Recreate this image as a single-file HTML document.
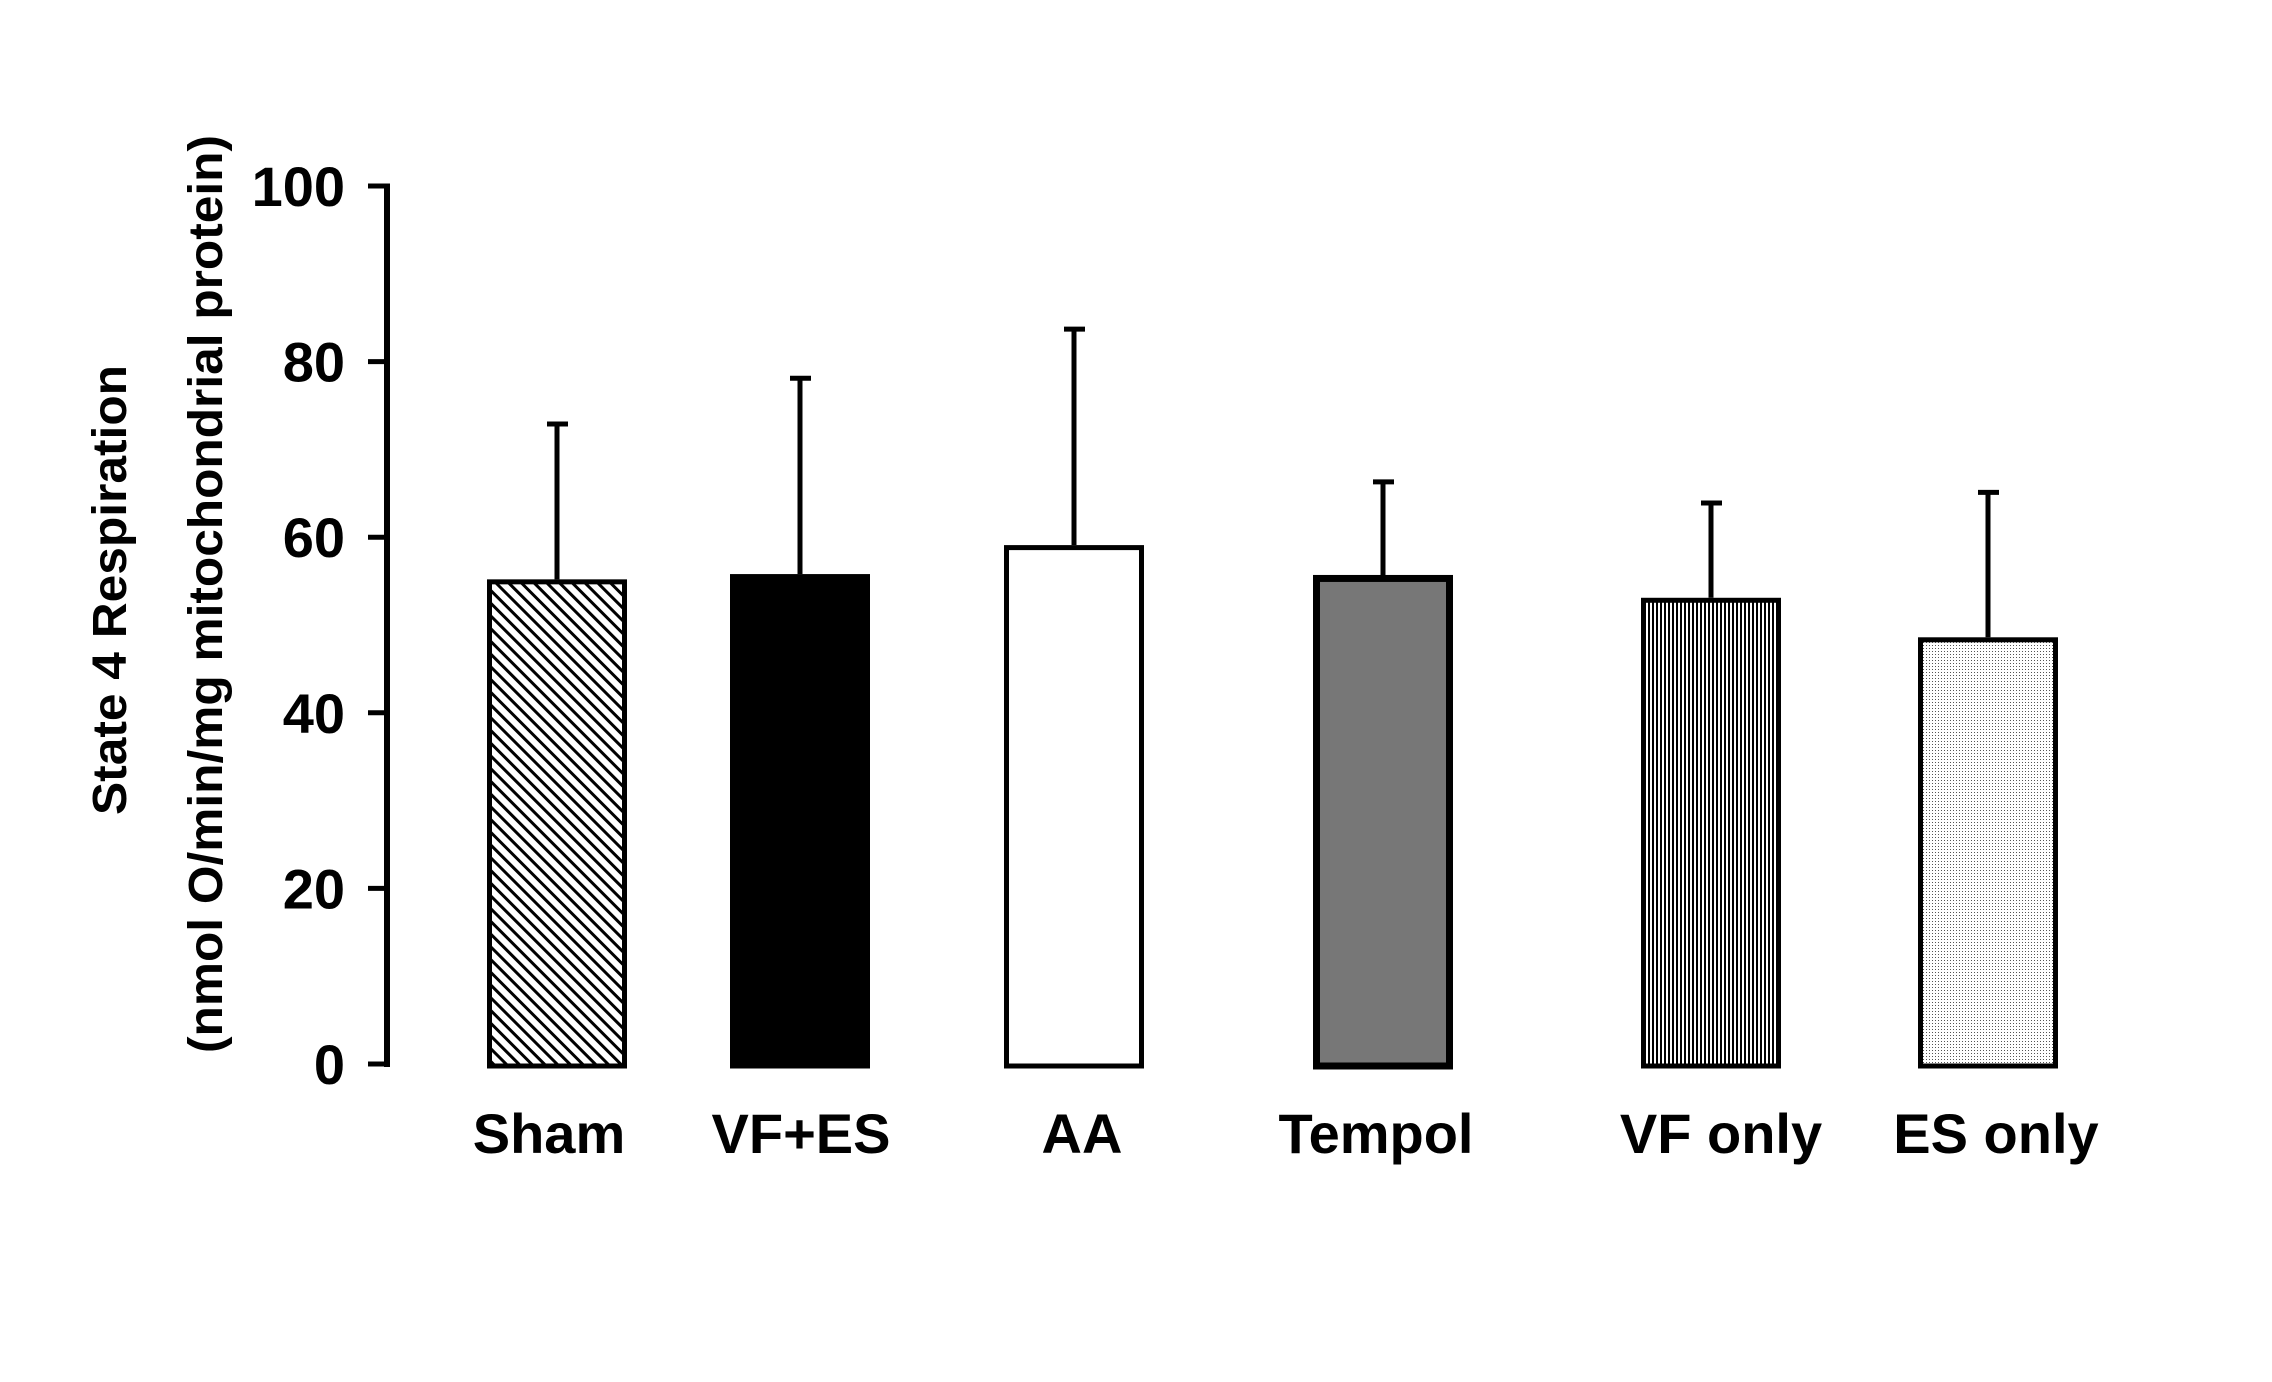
<!DOCTYPE html>
<html><head><meta charset="utf-8">
<style>
html,body{margin:0;padding:0;background:#fff;}
svg{display:block;}
text{font-family:"Liberation Sans",Arial,sans-serif;font-weight:bold;fill:#000;}
</style></head>
<body>
<svg id="chart" width="2272" height="1382" viewBox="0 0 2272 1382" xmlns="http://www.w3.org/2000/svg">
<defs>
  <pattern id="diag" patternUnits="userSpaceOnUse" width="9" height="9" patternTransform="rotate(-45)">
    <rect width="9" height="9" fill="#fff"/><rect x="0" y="0" width="3" height="9" fill="#000"/>
  </pattern>
  <pattern id="vert" patternUnits="userSpaceOnUse" width="4" height="4">
    <rect width="4" height="4" fill="#fff"/><rect x="0" y="0" width="2" height="4" fill="#000"/>
  </pattern>
  <pattern id="dots" patternUnits="userSpaceOnUse" width="3" height="3">
    <rect width="3" height="3" fill="#fff"/><rect x="0" y="0" width="1" height="1" fill="#555"/>
  </pattern>
</defs>
<g id="y-title">
  <text transform="translate(126,590) rotate(-90)" text-anchor="middle" font-size="48" textLength="450" lengthAdjust="spacingAndGlyphs">State 4 Respiration</text>
  <text transform="translate(222,594) rotate(-90)" text-anchor="middle" font-size="48" textLength="918" lengthAdjust="spacingAndGlyphs">(nmol O/min/mg mitochondrial protein)</text>
</g>
<g id="axis"></g>
<g id="bars"></g>
<g id="xlabels"></g>
</svg>
<script>
const categories = ["Sham", "VF+ES", "AA", "Tempol", "VF only", "ES only"];
const means = [55.2, 55.8, 59.1, 55.7, 53.1, 48.6];
const errors = [17.7, 22.3, 24.6, 10.6, 10.8, 16.5];
const yTicks = [0, 20, 40, 60, 80, 100];
const yTickLabels = ["0", "20", "40", "60", "80", "100"];

const NS = "http://www.w3.org/2000/svg";
const Y0 = 1064, Y100 = 186, AXX = 387;
function yScale(v){ return Y0 - (v/100)*(Y0-Y100); }
// layout: uneven category slot centers (layout, not data)
const slotCenters = [557, 800, 1074, 1383, 1711, 1988];
const labelShift = [-8, 1, 8, -7, 10, 8];
function xScale(i){ return slotCenters[i]; }
const fills = ["url(#diag)", "#000", "#fff", "#777", "url(#vert)", "url(#dots)"];
const strokes = [5, 5, 5, 7, 5, 5];
const BW = 140;
function mk(tag, attrs, parent){
  const e = document.createElementNS(NS, tag);
  for (const k in attrs) e.setAttribute(k, attrs[k]);
  parent.appendChild(e); return e;
}
const axis = document.getElementById('axis');
const ax = mk('line', {x1:AXX, y1:yScale(100)-2, x2:AXX, y2:yScale(0)+3, stroke:'#000','stroke-width':6}, axis);


yTicks.forEach((t,i)=>{
  const tk = mk('line', {x1:AXX-19, y1:yScale(t), x2:AXX+3, y2:yScale(t), stroke:'#000','stroke-width':5}, axis);
  
  
  const tl = mk('text', {x:345, y:yScale(t)+20, 'text-anchor':'end', 'font-size':56}, axis);
  tl.textContent = yTickLabels[i];
  
  
});
const bars = document.getElementById('bars');
const xl = document.getElementById('xlabels');
categories.forEach((c,i)=>{
  const cx = xScale(i);
  const top = yScale(means[i]), etop = yScale(means[i]+errors[i]);
  const el = mk('line', {x1:cx, y1:top, x2:cx, y2:etop, stroke:'#000','stroke-width':5}, bars);
  
  
  const cap = mk('line', {x1:cx-10, y1:etop, x2:cx+11, y2:etop, stroke:'#000','stroke-width':5}, bars);
  
  
  const sw = strokes[i];
  const r = mk('rect', {x:cx-BW/2+sw/2, y:top+sw/2, width:BW-sw, height:yScale(0)-top-sw/2+2, fill:fills[i], stroke:'#000','stroke-width':sw}, bars);
  
  
  const t = mk('text', {x:cx+labelShift[i], y:1153, 'text-anchor':'middle', 'font-size':56}, xl);
  t.textContent = c;
  
  
});
</script>
</body></html>
